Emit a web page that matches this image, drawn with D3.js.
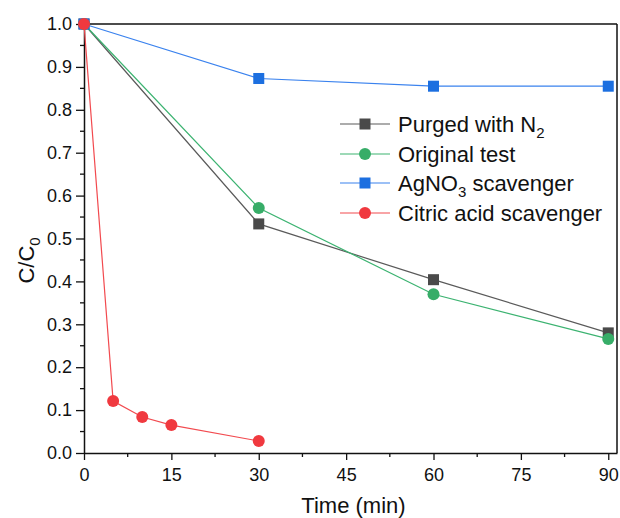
<!DOCTYPE html>
<html>
<head>
<meta charset="utf-8">
<script src="https://cdn.jsdelivr.net/npm/d3@7"></script>
<style>
  body { margin: 0; background: #fff; }
  text { font-family: "Liberation Sans", Arial, sans-serif; fill: #111; }
</style>
</head>
<body>
<div id="chart"></div>
<script>
// data
var seriesNames = ["Purged with N2", "Original test", "AgNO3 scavenger", "Citric acid scavenger"];
var purgedTime = [0, 30, 60, 90];
var purgedVal = [1.0, 0.534, 0.404, 0.28];
var originalTime = [0, 30, 60, 90];
var originalVal = [1.0, 0.571, 0.370, 0.266];
var agTime = [0, 30, 60, 90];
var agVal = [1.0, 0.873, 0.855, 0.855];
var citricTime = [0, 5, 10, 15, 30];
var citricVal = [1.0, 0.121, 0.084, 0.065, 0.028];
var xTicks = [0, 15, 30, 45, 60, 75, 90];
var yTicks = [0, 0.1, 0.2, 0.3, 0.4, 0.5, 0.6, 0.7, 0.8, 0.9, 1.0];

var width = 620, height = 518;
var margin = { left: 84, right: 3, top: 24, bottom: 65 };

var svg = d3.select("#chart").append("svg")
  .attr("width", width)
  .attr("height", height);

var x = d3.scaleLinear().domain([0, 91.5]).range([margin.left, width - margin.right]);
var y = d3.scaleLinear().domain([0, 1]).range([height - margin.bottom, margin.top]);

var series = [
  { name: seriesNames[0], t: purgedTime, v: purgedVal, color: "#4a4a4a", line: "#5a5a5a", shape: "square" },
  { name: seriesNames[1], t: originalTime, v: originalVal, color: "#37ad68", line: "#3cb371", shape: "circle" },
  { name: seriesNames[2], t: agTime, v: agVal, color: "#1c6fe0", line: "#3a82ee", shape: "square" },
  { name: seriesNames[3], t: citricTime, v: citricVal, color: "#f0393f", line: "#f24a4f", shape: "circle" }
];

// frame top/right
svg.append("line").attr("x1", x(0)).attr("x2", x(91.5)).attr("y1", y(1)).attr("y2", y(1))
  .attr("stroke", "#111").attr("stroke-width", 1.5);
svg.append("line").attr("x1", x(91.5)).attr("x2", x(91.5)).attr("y1", y(0)).attr("y2", y(1))
  .attr("stroke", "#111").attr("stroke-width", 1.5);

// minor ticks
var xMinor = d3.range(7.5, 91, 15);
var yMinor = d3.range(0.05, 1, 0.1);
svg.append("g").selectAll("line").data(xMinor).enter().append("line")
  .attr("x1", d => x(d)).attr("x2", d => x(d))
  .attr("y1", y(0)).attr("y2", y(0) + 4)
  .attr("stroke", "#111").attr("stroke-width", 1.3);
svg.append("g").selectAll("line").data(yMinor).enter().append("line")
  .attr("x1", x(0) - 4).attr("x2", x(0))
  .attr("y1", d => y(d)).attr("y2", d => y(d))
  .attr("stroke", "#111").attr("stroke-width", 1.3);

// axes
var xAxis = svg.append("g")
  .attr("transform", "translate(0," + y(0) + ")")
  .call(d3.axisBottom(x).tickValues(xTicks).tickSize(7).tickPadding(8).tickSizeOuter(0));
var yAxis = svg.append("g")
  .attr("transform", "translate(" + x(0) + ",0)")
  .call(d3.axisLeft(y).tickValues(yTicks).tickFormat(d3.format(".1f")).tickSize(8).tickPadding(4).tickSizeOuter(0));
[xAxis, yAxis].forEach(function (a) {
  a.attr("font-size", null);
  a.select(".domain").attr("stroke", "#111").attr("stroke-width", 1.5);
  a.selectAll(".tick line").attr("stroke", "#111").attr("stroke-width", 1.3);
  a.selectAll(".tick text").style("font-size", "18px")
    .style("font-family", "'Liberation Sans', Arial, sans-serif").attr("fill", "#111");
});

// axis titles
svg.append("text")
  .attr("x", (x(0) + x(91.5)) / 2 + 3).attr("y", 513)
  .attr("text-anchor", "middle").style("font-size", "22px")
  .text("Time (min)");
var yl = svg.append("text")
  .attr("transform", "translate(34," + ((y(0) + y(1)) / 2 + 22) + ") rotate(-90)")
  .attr("text-anchor", "middle").style("font-size", "22px");
yl.append("tspan").text("C/C");
yl.append("tspan").attr("dy", 6).style("font-size", "15px").text("0");

// lines + markers
var lineGen = d3.line().x(d => x(d[0])).y(d => y(d[1]));
function drawMarker(g, shape, cx, cy, color) {
  if (shape === "square") {
    g.append("rect").attr("x", cx - 5.5).attr("y", cy - 5.5)
      .attr("width", 11).attr("height", 11).attr("fill", color);
  } else {
    g.append("circle").attr("cx", cx).attr("cy", cy).attr("r", 6).attr("fill", color);
  }
}
series.forEach(function (s) {
  var pts = s.t.map((t, i) => [t, s.v[i]]);
  var g = svg.append("g");
  g.append("path").attr("d", lineGen(pts)).attr("fill", "none")
    .attr("stroke", s.line).attr("stroke-width", 1.2);
  pts.forEach(function (p) { drawMarker(g, s.shape, x(p[0]), y(p[1]), s.color); });
});

// legend
var legend = svg.append("g").attr("transform", "translate(340,124)");
var labels = [
  ["Purged with N", "2", 1],
  ["Original test", null, 0],
  ["AgNO", "3", 0],
  ["Citric acid scavenger", null, 0]
];
var rowY = [0, 30, 59, 89];
series.forEach(function (s, i) {
  var row = legend.append("g").attr("transform", "translate(0," + rowY[i] + ")");
  row.append("line").attr("x1", 0).attr("x2", 50).attr("y1", 0).attr("y2", 0)
    .attr("stroke", s.line).attr("stroke-width", 1.2);
  drawMarker(row, s.shape, 25, 0, s.color);
  var t = row.append("text").attr("x", 58).attr("y", 8).style("font-size", "22px");
  var lab = labels[i];
  t.append("tspan").text(lab[0]);
  if (lab[1]) {
    t.append("tspan").attr("dy", 6).style("font-size", "15px").text(lab[1]);
    if (i === 2) t.append("tspan").attr("dy", -6).text(" scavenger");
  }
});
</script>
</body>
</html>
